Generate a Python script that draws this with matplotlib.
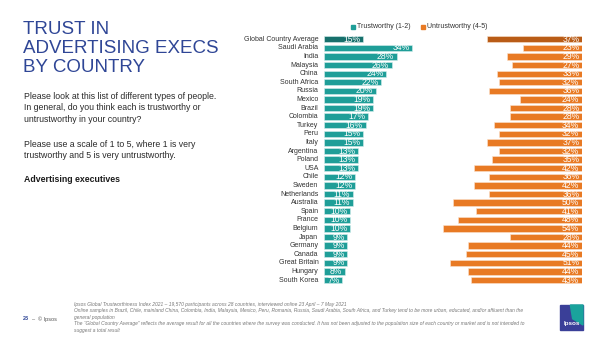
import matplotlib.pyplot as plt
from matplotlib.patches import Rectangle, Polygon

plt.rcParams['font.family'] = ['Liberation Sans', 'DejaVu Sans']

countries = ["Global Country Average", "Saudi Arabia", "India", "Malaysia", "China",
             "South Africa", "Russia", "Mexico", "Brazil", "Colombia", "Turkey", "Peru",
             "Italy", "Argentina", "Poland", "USA", "Chile", "Sweden", "Netherlands",
             "Australia", "Spain", "France", "Belgium", "Japan", "Germany", "Canada",
             "Great Britain", "Hungary", "South Korea"]
trustworthy = [15, 34, 28, 26, 24, 22, 20, 19, 19, 17, 16, 15, 15, 13, 13, 13, 12, 12,
               11, 11, 10, 10, 10, 9, 9, 9, 9, 8, 7]
untrustworthy = [37, 23, 29, 27, 33, 32, 36, 24, 28, 28, 34, 32, 37, 32, 35, 42, 36, 42,
                 36, 50, 41, 48, 54, 28, 44, 45, 51, 44, 43]

teal, teal_dark = "#1f9e98", "#17706c"
orange, orange_dark = "#e87a24", "#b95c17"
blue = "#2f4696"
W, H = 600, 337

fig = plt.figure(figsize=(6, 3.37), dpi=100)

# left-hand text block
fig.text(23 / W, 1 - 21 / H, "TRUST IN\nADVERTISING EXECS\nBY COUNTRY", color=blue,
         fontsize=13.5, va="top", ha="left", linespacing=1.15)
fig.text(24 / W, 1 - 92 / H,
         "Please look at this list of different types of people.\n"
         "In general, do you think each is trustworthy or\n"
         "untrustworthy in your country?",
         fontsize=6.3, color="#2b2b2b", va="top", linespacing=1.35)
fig.text(24 / W, 1 - 140 / H,
         "Please use a scale of 1 to 5, where 1 is very\n"
         "trustworthy and 5 is very untrustworthy.",
         fontsize=6.3, color="#2b2b2b", va="top", linespacing=1.35)
fig.text(24 / W, 1 - 175 / H, "Advertising executives", fontsize=6.3,
         fontweight="bold", color="#1a1a1a", va="top")

n = len(countries)
rows = list(range(n))
bottom = 1 - 284.3 / H
top = 1 - 35 / H

# trustworthy bars grow to the right
ax1 = fig.add_axes([324 / W, bottom, 100 / W, top - bottom])
ax1.set_xlim(0, 100 / 2.6)
ax1.set_ylim(n - 0.5, -0.5)
ax1.axis("off")
c1 = [teal_dark] + [teal] * (n - 1)
ax1.barh(rows, trustworthy, height=0.74, color=c1, edgecolor="#d7efee", linewidth=0.4)
for i, v in enumerate(trustworthy):
    ax1.annotate(f"{v}%", (v, i), xytext=(-2, 0), textcoords="offset points",
                 ha="right", va="center", color="white", fontsize=6.2)
    ax1.annotate(countries[i], (0, i), xytext=(-4, 0), textcoords="offset points",
                 ha="right", va="center", color="#333333", fontsize=5.0,
                 annotation_clip=False)

# untrustworthy bars anchored at the right edge
ax2 = fig.add_axes([(582 - 150) / W, bottom, 150 / W, top - bottom])
ax2.set_xlim(150 / 2.58, 0)
ax2.set_ylim(n - 0.5, -0.5)
ax2.axis("off")
c2 = [orange_dark] + [orange] * (n - 1)
ax2.barh(rows, untrustworthy, height=0.74, color=c2, edgecolor="#fbe3cf", linewidth=0.4)
for i, v in enumerate(untrustworthy):
    ax2.annotate(f"{v}%", (0, i), xytext=(-2, 0), textcoords="offset points",
                 ha="right", va="center", color="white", fontsize=6.2)

# legend
ly = 1 - 27 / H
fig.add_artist(Rectangle((351 / W, ly - 2 / H), 4 / W, 4 / H, color=teal,
                         transform=fig.transFigure))
fig.text(357 / W, ly, "Trustworthy (1-2)", fontsize=5, color="#333333", va="center")
fig.add_artist(Rectangle((421 / W, ly - 2 / H), 4 / W, 4 / H, color=orange,
                         transform=fig.transFigure))
fig.text(427 / W, ly, "Untrustworthy (4-5)", fontsize=5, color="#333333", va="center")

# footer
fig.text(74 / W, 1 - 302 / H,
         "Ipsos Global Trustworthiness Index 2021 \u2013 19,570 participants across 28 countries, "
         "interviewed online 23 April \u2013 7 May 2021\n"
         "Online samples in Brazil, Chile, mainland China, Colombia, India, Malaysia, Mexico, Peru, "
         "Romania, Russia, Saudi Arabia, South Africa, and Turkey tend to be more urban, educated, "
         "and/or affluent than the\ngeneral population\n"
         "The \u201cGlobal Country Average\u201d reflects the average result for all the countries "
         "where the survey was conducted. It has not been adjusted to the population size of each "
         "country or market and is not intended to\nsuggest a total result",
         fontsize=3.55, style="italic", color="#777777", va="top", linespacing=1.35)
fig.text(23 / W, 1 - 319 / H, "23", fontsize=4, fontweight="bold", color=blue, va="center")
fig.text(32 / W, 1 - 319 / H, "\u2013  \u00a9 Ipsos", fontsize=4, color="#555555", va="center")

# logo
lx, ly0, lw, lh = 560 / W, 1 - 330 / H, 23 / W, 25 / H
fig.add_artist(Rectangle((lx, ly0), lw, lh, color="#3a3f98", transform=fig.transFigure))
fig.add_artist(Polygon([(lx + lw * 0.45, ly0 + lh), (lx + lw, ly0 + lh),
                        (lx + lw, ly0 + lh * 0.2), (lx + lw * 0.55, ly0 + lh * 0.45)],
                       closed=True, color="#1aa39c", transform=fig.transFigure))
fig.text(lx + lw / 2, ly0 + lh * 0.25, "Ipsos", fontsize=4.5, fontweight="bold",
         color="white", ha="center", va="center")

fig.savefig("out.png", dpi=100)
